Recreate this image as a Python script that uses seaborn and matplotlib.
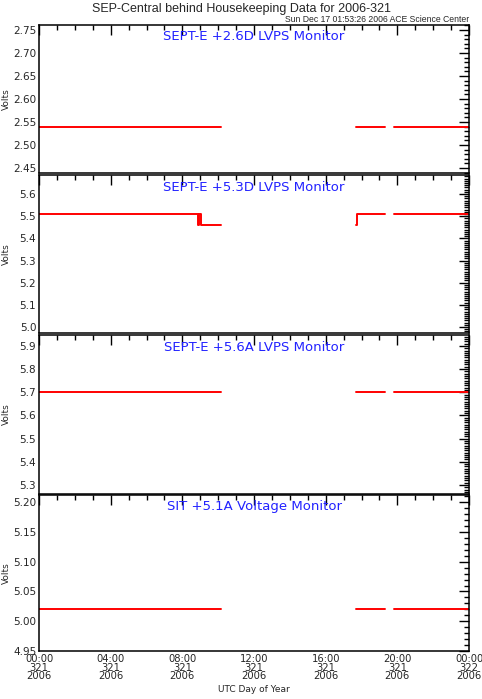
import numpy as np
import pandas as pd
import seaborn as sns
import matplotlib.pyplot as plt
from matplotlib.ticker import MultipleLocator, FormatStrFormatter

# hours since 00:00 UTC day 321, segment ids break the line at data gaps
seg_ids = [0, 0, 1, 1, 2, 2]
hours_basic = [0.0, 10.15, 17.7, 19.3, 19.8, 24.0]

volts_26d = [2.54, 2.54, 2.54, 2.54, 2.54, 2.54]
volts_56a = [5.70, 5.70, 5.70, 5.70, 5.70, 5.70]
volts_51a = [5.02, 5.02, 5.02, 5.02, 5.02, 5.02]

# +5.3D monitor has a couple of drops near 09:00 and a step at 17:45
seg_ids_53d = [0, 0, 0, 0, 0, 0, 0, 0, 1, 1, 1, 1, 2, 2]
hours_53d = [0.0, 8.85, 8.85, 8.92, 8.92, 9.02, 9.02, 10.15,
             17.7, 17.76, 17.76, 19.3, 19.8, 24.0]
volts_53d = [5.51, 5.51, 5.46, 5.46, 5.51, 5.51, 5.46, 5.46,
             5.46, 5.46, 5.51, 5.51, 5.51, 5.51]

panel_titles = ["SEPT-E +2.6D LVPS Monitor", "SEPT-E +5.3D LVPS Monitor",
                "SEPT-E +5.6A LVPS Monitor", "SIT +5.1A Voltage Monitor"]
xtick_labels = ["00:00\n321\n2006", "04:00\n321\n2006", "08:00\n321\n2006",
                "12:00\n321\n2006", "16:00\n321\n2006", "20:00\n321\n2006",
                "00:00\n322\n2006"]

panels = [
    (hours_basic, volts_26d, seg_ids, (2.439, 2.761), 0.05, 0.01, "%.2f"),
    (hours_53d, volts_53d, seg_ids_53d, (4.973, 5.686), 0.1, 0.01, "%.1f"),
    (hours_basic, volts_56a, seg_ids, (5.261, 5.947), 0.1, 0.01, "%.1f"),
    (hours_basic, volts_51a, seg_ids, (4.95, 5.212), 0.05, 0.01, "%.2f"),
]

sns.set_style("white")
plt.rcParams['font.family'] = ['DejaVu Sans']

fig = plt.figure(figsize=(4.82, 6.99), dpi=100)
W, H = 482, 699
boxes = [(25, 173), (175, 333), (335, 494), (495, 651)]
left, right = 39, 469

for i, ((t, v, s, ylim, major, minor, fmt), (top, bot)) in enumerate(zip(panels, boxes)):
    ax = fig.add_axes([left / W, 1 - bot / H, (right - left) / W, (bot - top) / H])
    df = pd.DataFrame({"hour": t, "volts": v, "seg": s})
    sns.lineplot(data=df, x="hour", y="volts", units="seg", estimator=None, sort=False,
                 color="#ff0000", linewidth=1.4, ax=ax, legend=False)
    ax.set_xlim(0, 24)
    ax.set_ylim(*ylim)
    ax.xaxis.set_major_locator(MultipleLocator(4))
    ax.xaxis.set_minor_locator(MultipleLocator(1))
    ax.yaxis.set_major_locator(MultipleLocator(major))
    ax.yaxis.set_minor_locator(MultipleLocator(minor))
    ax.yaxis.set_major_formatter(FormatStrFormatter(fmt))
    ax.tick_params(which="both", direction="in", top=True, right=True,
                   color="black", width=1.0, labelsize=7.5, pad=2)
    ax.tick_params(which="major", length=7)
    ax.tick_params(which="minor", length=3.5)
    for sp in ax.spines.values():
        sp.set_linewidth(1.1)
        sp.set_color("black")
    ax.set_ylabel("Volts", fontsize=6.5)
    ax.yaxis.set_label_coords(-0.066, 0.5)
    ax.set_xlabel("")
    ax.text(0.5, 0.965, panel_titles[i], transform=ax.transAxes, ha="center", va="top",
            color="#2222ff", fontsize=9.5)
    if i < 3:
        ax.set_xticklabels([])
    else:
        ax.set_xticks([0, 4, 8, 12, 16, 20, 24])
        ax.set_xticklabels(xtick_labels, fontsize=7.2, linespacing=0.85)
        ax.tick_params(axis="x", pad=2)

fig.text(254 / W, 1 - 689 / H, "UTC Day of Year", ha="center", va="center", fontsize=6.5)
fig.text(0.5, 1 - 9 / H, "SEP-Central behind Housekeeping Data for 2006-321",
         ha="center", va="center", fontsize=9.0, family=["Liberation Sans"])
fig.text(right / W, 1 - 20 / H, "Sun Dec 17 01:53:26 2006 ACE Science Center",
         ha="right", va="center", fontsize=6.2, family=["Liberation Sans"])

fig.savefig("out.png", dpi=100)
